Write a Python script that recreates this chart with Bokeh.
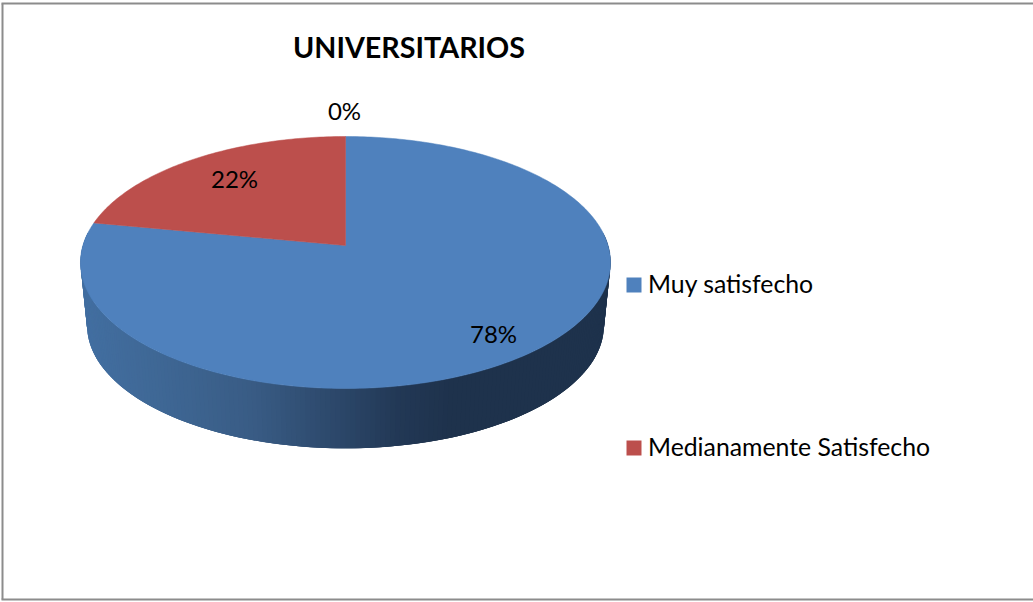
import math
from bokeh.plotting import figure
from bokeh.models import Range1d
from bokeh.core.properties import value
from bokeh.embed import file_html
from bokeh.resources import INLINE

# --- data ---
categories = ["Muy satisfecho", "Medianamente Satisfecho", "Satisfecho"]
percentages = [78, 22, 0]
title_text = "UNIVERSITARIOS"

# --- style / layout ---
W, H = 1033, 602
BLUE, RED = "#4F81BD", "#BC4F4C"
FONT = value("Lato")
CX, APEX_Y, PERSP, YA, RX = 345.0, 245.0, 0.1349, -90.65, 262.6
DEPTH, SHRINK, MID_Y = 63.0, 0.975, 262.0
LABEL_POS = [(493, 333), (234, 178), (344, 110)]
LEGEND_Y = [284.5, 447.5]
SIDE_STOPS = [(85, (66, 110, 160)), (150, (63, 104, 150)), (250, (57, 92, 133)),
              (330, (45, 73, 108)), (400, (34, 56, 85)), (450, (30, 50, 76)), (610, (30, 50, 76))]


def top_point(theta, r=1.0):
    """theta clockwise from the top of the disc, perspective-projected to the page."""
    u, v = r * math.sin(theta), r * math.cos(theta)
    d = 1 + PERSP * v
    return CX + RX * u / d, (YA * v + APEX_Y) / d


def bottom_point(theta):
    x, y = top_point(theta)
    return CX + (x - CX) * SHRINK, MID_Y + (y - MID_Y) * SHRINK + DEPTH


def side_colour(x):
    for (x0, c0), (x1, c1) in zip(SIDE_STOPS, SIDE_STOPS[1:]):
        if x <= x1:
            t = max(0.0, (x - x0) / (x1 - x0))
            return "#%02x%02x%02x" % tuple(round(a + (b - a) * t) for a, b in zip(c0, c1))
    return "#%02x%02x%02x" % SIDE_STOPS[-1][1]


p = figure(width=W, height=H, x_range=Range1d(0, W), y_range=Range1d(H, 0),
           output_backend="svg", toolbar_location=None, min_border=0,
           outline_line_color=None, background_fill_color="white")
p.axis.visible = False
p.grid.visible = False
p.styles = {"position": "absolute", "left": "0px", "top": "0px"}

# chart frame (right edge falls outside the page)
p.line([2, 2], [3, H - 3], line_color="#8c8c8c", line_width=2)
p.line([1, W + 2], [3, 3], line_color="#8c8c8c", line_width=2)
p.line([1, W + 2], [H - 3, H - 3], line_color="#8c8c8c", line_width=2)

# side wall of the pie: each strip is overlapped by the next, so no seams show
N = 200
start, end = math.radians(84), math.radians(276)
xs, ys, cols = [], [], []
for i in range(N):
    a0 = start + (end - start) * i / N
    a1 = start + (end - start) * min(i + 3, N) / N
    amid = start + (end - start) * (i + 0.5) / N
    t0, t1, b1, b0 = top_point(a0), top_point(a1), bottom_point(a1), bottom_point(a0)
    xs.append([t0[0], t1[0], b1[0], b0[0]])
    ys.append([t0[1], t1[1], b1[1], b0[1]])
    cols.append(side_colour(top_point(amid)[0]))
p.patches(xs, ys, fill_color=cols, line_color=None)

# top of the pie, wedges clockwise from 12 o'clock
total = sum(percentages)
colors = [BLUE, RED, RED]
acc = 0.0
for val, col in zip(percentages, colors):
    if val == 0:
        continue
    a0 = 2 * math.pi * acc / total
    a1 = 2 * math.pi * (acc + val) / total
    n = max(2, int(val * 4))
    pts = [top_point(a0 + (a1 - a0) * k / n) for k in range(n + 1)] + [(CX, APEX_Y)]
    p.patch([q[0] for q in pts], [q[1] for q in pts], fill_color=col, line_color=col, line_width=0.5)
    acc += val

# data labels
p.text([q[0] for q in LABEL_POS], [q[1] for q in LABEL_POS], text=[f"{v}%" for v in percentages],
       text_font=FONT, text_font_size="24px", text_color="black",
       text_align="center", text_baseline="middle")

# title
p.text([408.5], [46], text=[title_text], text_font=FONT, text_font_size="28.7px",
       text_font_style="bold", text_color="black", text_align="center", text_baseline="middle")

# legend
p.quad(left=[626, 626], right=[641, 641], top=[y - 7.5 for y in LEGEND_Y],
       bottom=[y + 7.5 for y in LEGEND_Y], fill_color=[BLUE, RED], line_color=None)
p.text([647.5, 647.5], [y - 2 for y in LEGEND_Y], text=categories[:2], text_font=FONT,
       text_font_size="24.8px", text_color="black", text_align="left", text_baseline="middle")

open("out.html", "w").write(file_html(p, INLINE))
